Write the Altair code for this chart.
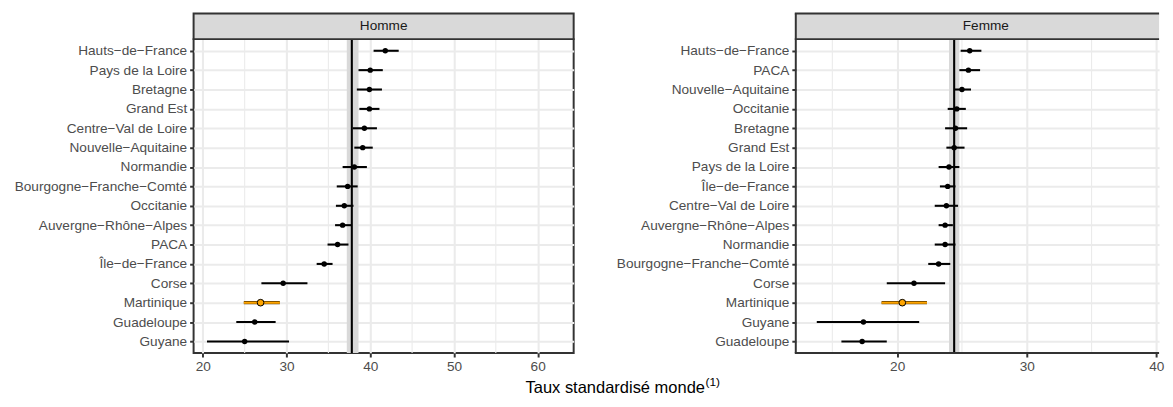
import altair as alt
import pandas as pd

FONT = "Liberation Sans"

# ---- Homme ----
h_regions = ["Hauts-de-France", "Pays de la Loire", "Bretagne", "Grand Est",
             "Centre-Val de Loire", "Nouvelle-Aquitaine", "Normandie",
             "Bourgogne-Franche-Comté", "Occitanie", "Auvergne-Rhône-Alpes",
             "PACA", "Île-de-France", "Corse", "Martinique", "Guadeloupe", "Guyane"]
h_rate = [41.8, 40.0, 39.9, 39.9, 39.3, 39.1, 38.1, 37.3, 36.9, 36.7, 36.1, 34.5, 29.6, 26.9, 26.2, 25.0]
h_low = [40.4, 38.6, 38.4, 38.7, 37.9, 38.1, 36.7, 36.0, 35.9, 35.8, 34.9, 33.6, 27.0, 24.9, 24.0, 20.5]
h_high = [43.4, 41.5, 41.4, 41.1, 40.8, 40.3, 39.6, 38.5, 38.0, 37.8, 37.4, 35.5, 32.5, 29.2, 28.7, 30.3]
h_ref, h_ref_low, h_ref_high = 37.8, 37.2, 38.6

# ---- Femme ----
f_regions = ["Hauts-de-France", "PACA", "Nouvelle-Aquitaine", "Occitanie", "Bretagne",
             "Grand Est", "Pays de la Loire", "Île-de-France", "Centre-Val de Loire",
             "Auvergne-Rhône-Alpes", "Normandie", "Bourgogne-Franche-Comté", "Corse",
             "Martinique", "Guyane", "Guadeloupe"]
f_rate = [25.6, 25.5, 25.0, 24.6, 24.5, 24.4, 24.0, 23.9, 23.8, 23.7, 23.7, 23.2, 21.3, 20.4, 17.4, 17.3]
f_low = [24.9, 24.8, 24.4, 23.9, 23.7, 23.8, 23.2, 23.3, 22.9, 23.2, 22.9, 22.4, 19.2, 18.8, 13.8, 15.7]
f_high = [26.5, 26.4, 25.7, 25.3, 25.4, 25.2, 24.8, 24.5, 24.7, 24.3, 24.5, 24.1, 23.7, 22.3, 21.7, 19.2]
f_ref, f_ref_low, f_ref_high = 24.4, 24.0, 24.8

h_major = [20, 30, 40, 50, 60]
h_minor = [25, 35, 45, 55]
f_major = [20, 30, 40]
f_minor = [15, 25, 35]

HIGHLIGHT = "Martinique"
H = 318
STRIP = 26
LABEL_SIZE = 13.8
FULL_W = 385
BORDER = "#333333"


def panel(label, regions, rate, low, high, ref, ref_lo, ref_hi, domain, major, minor, width,
          with_title=False, open_right=False):
    df = pd.DataFrame({"region": regions, "rate": rate, "low": low, "high": high})
    xsc = alt.Scale(domain=domain, nice=False, zero=False)
    ysc = alt.Scale(type="point", domain=regions, padding=0.6)
    xaxis = alt.Axis(values=major, format="d", grid=True, title=None)
    yaxis = alt.Axis(title=None, grid=True,
                     labelExpr="replace(datum.label, regexp('-', 'g'), '\u2212')")

    minor_layer = alt.Chart(pd.DataFrame({"v": minor})).mark_rule(
        color="#EBEBEB", strokeWidth=1.1
    ).encode(x=alt.X("v:Q", scale=xsc, axis=xaxis, title=None),
             y=alt.value(0), y2=alt.value(H))

    refdf = pd.DataFrame({"lo": [ref_lo], "hi": [ref_hi], "ref": [ref]})
    band = alt.Chart(refdf).mark_rect(color="#D9D9D9").encode(
        x=alt.X("lo:Q", scale=xsc, title=None), x2="hi:Q",
        y=alt.value(0), y2=alt.value(H))
    refline = alt.Chart(refdf).mark_rule(color="black", strokeWidth=2.1).encode(
        x=alt.X("ref:Q", scale=xsc, title=None), y=alt.value(0), y2=alt.value(H))

    base = alt.Chart(df)
    normal = base.transform_filter(alt.datum.region != HIGHLIGHT)
    hl = base.transform_filter(alt.datum.region == HIGHLIGHT)

    bars = normal.mark_rule(color="black", strokeWidth=2.1).encode(
        x=alt.X("low:Q", scale=xsc, title=None), x2="high:Q",
        y=alt.Y("region:N", scale=ysc, axis=yaxis, title=None))
    hl_bar_dark = hl.mark_rule(color="#5A3A00", strokeWidth=3.4).encode(
        x=alt.X("low:Q", scale=xsc, title=None), x2="high:Q",
        y=alt.Y("region:N", scale=ysc, title=None))
    hl_bar = hl.mark_rule(color="#FFA500", strokeWidth=2.0).encode(
        x=alt.X("low:Q", scale=xsc, title=None), x2="high:Q",
        y=alt.Y("region:N", scale=ysc, title=None))
    pts = normal.mark_circle(color="black", size=30, opacity=1).encode(
        x=alt.X("rate:Q", scale=xsc, title=None),
        y=alt.Y("region:N", scale=ysc, title=None))
    hl_pt = hl.mark_point(filled=True, fill="#FFA500", stroke="black", strokeWidth=1,
                          size=46, opacity=1).encode(
        x=alt.X("rate:Q", scale=xsc, title=None),
        y=alt.Y("region:N", scale=ysc, title=None))

    sdf = pd.DataFrame({"label": [label]})
    layers = [minor_layer, band, refline, bars, hl_bar_dark, hl_bar, pts, hl_pt]

    if open_right:
        strip = alt.Chart(sdf).mark_rect(fill="#D9D9D9").encode(
            x=alt.value(0), x2=alt.value(width), y=alt.value(-STRIP), y2=alt.value(0))
        layers.append(strip)
        for yy in (-STRIP, 0, H):
            layers.append(alt.Chart(sdf).mark_rule(color=BORDER, strokeWidth=2).encode(
                x=alt.value(-1), x2=alt.value(width), y=alt.value(yy)))
        layers.append(alt.Chart(sdf).mark_rule(color=BORDER, strokeWidth=2).encode(
            x=alt.value(0), y=alt.value(-STRIP), y2=alt.value(H)))
    else:
        strip = alt.Chart(sdf).mark_rect(fill="#D9D9D9", stroke=BORDER, strokeWidth=2).encode(
            x=alt.value(0), x2=alt.value(width), y=alt.value(-STRIP), y2=alt.value(0))
        layers.append(strip)

    strip_text = alt.Chart(sdf).mark_text(font=FONT, fontSize=13.8, color="#1A1A1A",
                                          baseline="middle", align="center").encode(
        x=alt.value(FULL_W / 2), y=alt.value(-STRIP / 2), text="label:N")
    layers.append(strip_text)

    if with_title:
        tdf = pd.DataFrame({"t": ["Taux standardisé monde"], "s": ["(1)"]})
        t_main = alt.Chart(tdf).mark_text(font=FONT, fontSize=16.7, color="black",
                                          align="right", baseline="alphabetic").encode(
            x=alt.value(518), y=alt.value(358), text="t:N")
        t_sup = alt.Chart(tdf).mark_text(font=FONT, fontSize=12, color="black",
                                         align="left", baseline="alphabetic").encode(
            x=alt.value(518.5), y=alt.value(351), text="s:N")
        layers += [t_main, t_sup]

    ch = alt.layer(*layers).properties(width=width, height=H)
    if open_right:
        ch = ch.properties(view=alt.ViewBackground(stroke="transparent"))
    return ch


left = panel("Homme", h_regions, h_rate, h_low, h_high, h_ref, h_ref_low, h_ref_high,
             [18.9, 64.3], h_major, h_minor, FULL_W, with_title=True)
right = panel("Femme", f_regions, f_rate, f_low, f_high, f_ref, f_ref_low, f_ref_high,
              [12.18, 40.21], f_major, f_minor, 368, open_right=True)

chart = alt.hconcat(left, right, spacing=225, bounds="flush").properties(
    padding={"left": 5, "top": 1, "right": 0, "bottom": 0}
).configure(font=FONT).configure_view(
    stroke=BORDER, strokeWidth=2
).configure_axis(
    labelFont=FONT, labelFontSize=LABEL_SIZE, labelColor="#4D4D4D",
    tickColor=BORDER, tickWidth=2, tickSize=4, labelPadding=3,
    domain=False, gridColor="#EBEBEB", gridWidth=2.1
)

chart.save("out.html", embed_options={"renderer": "svg", "actions": False})
